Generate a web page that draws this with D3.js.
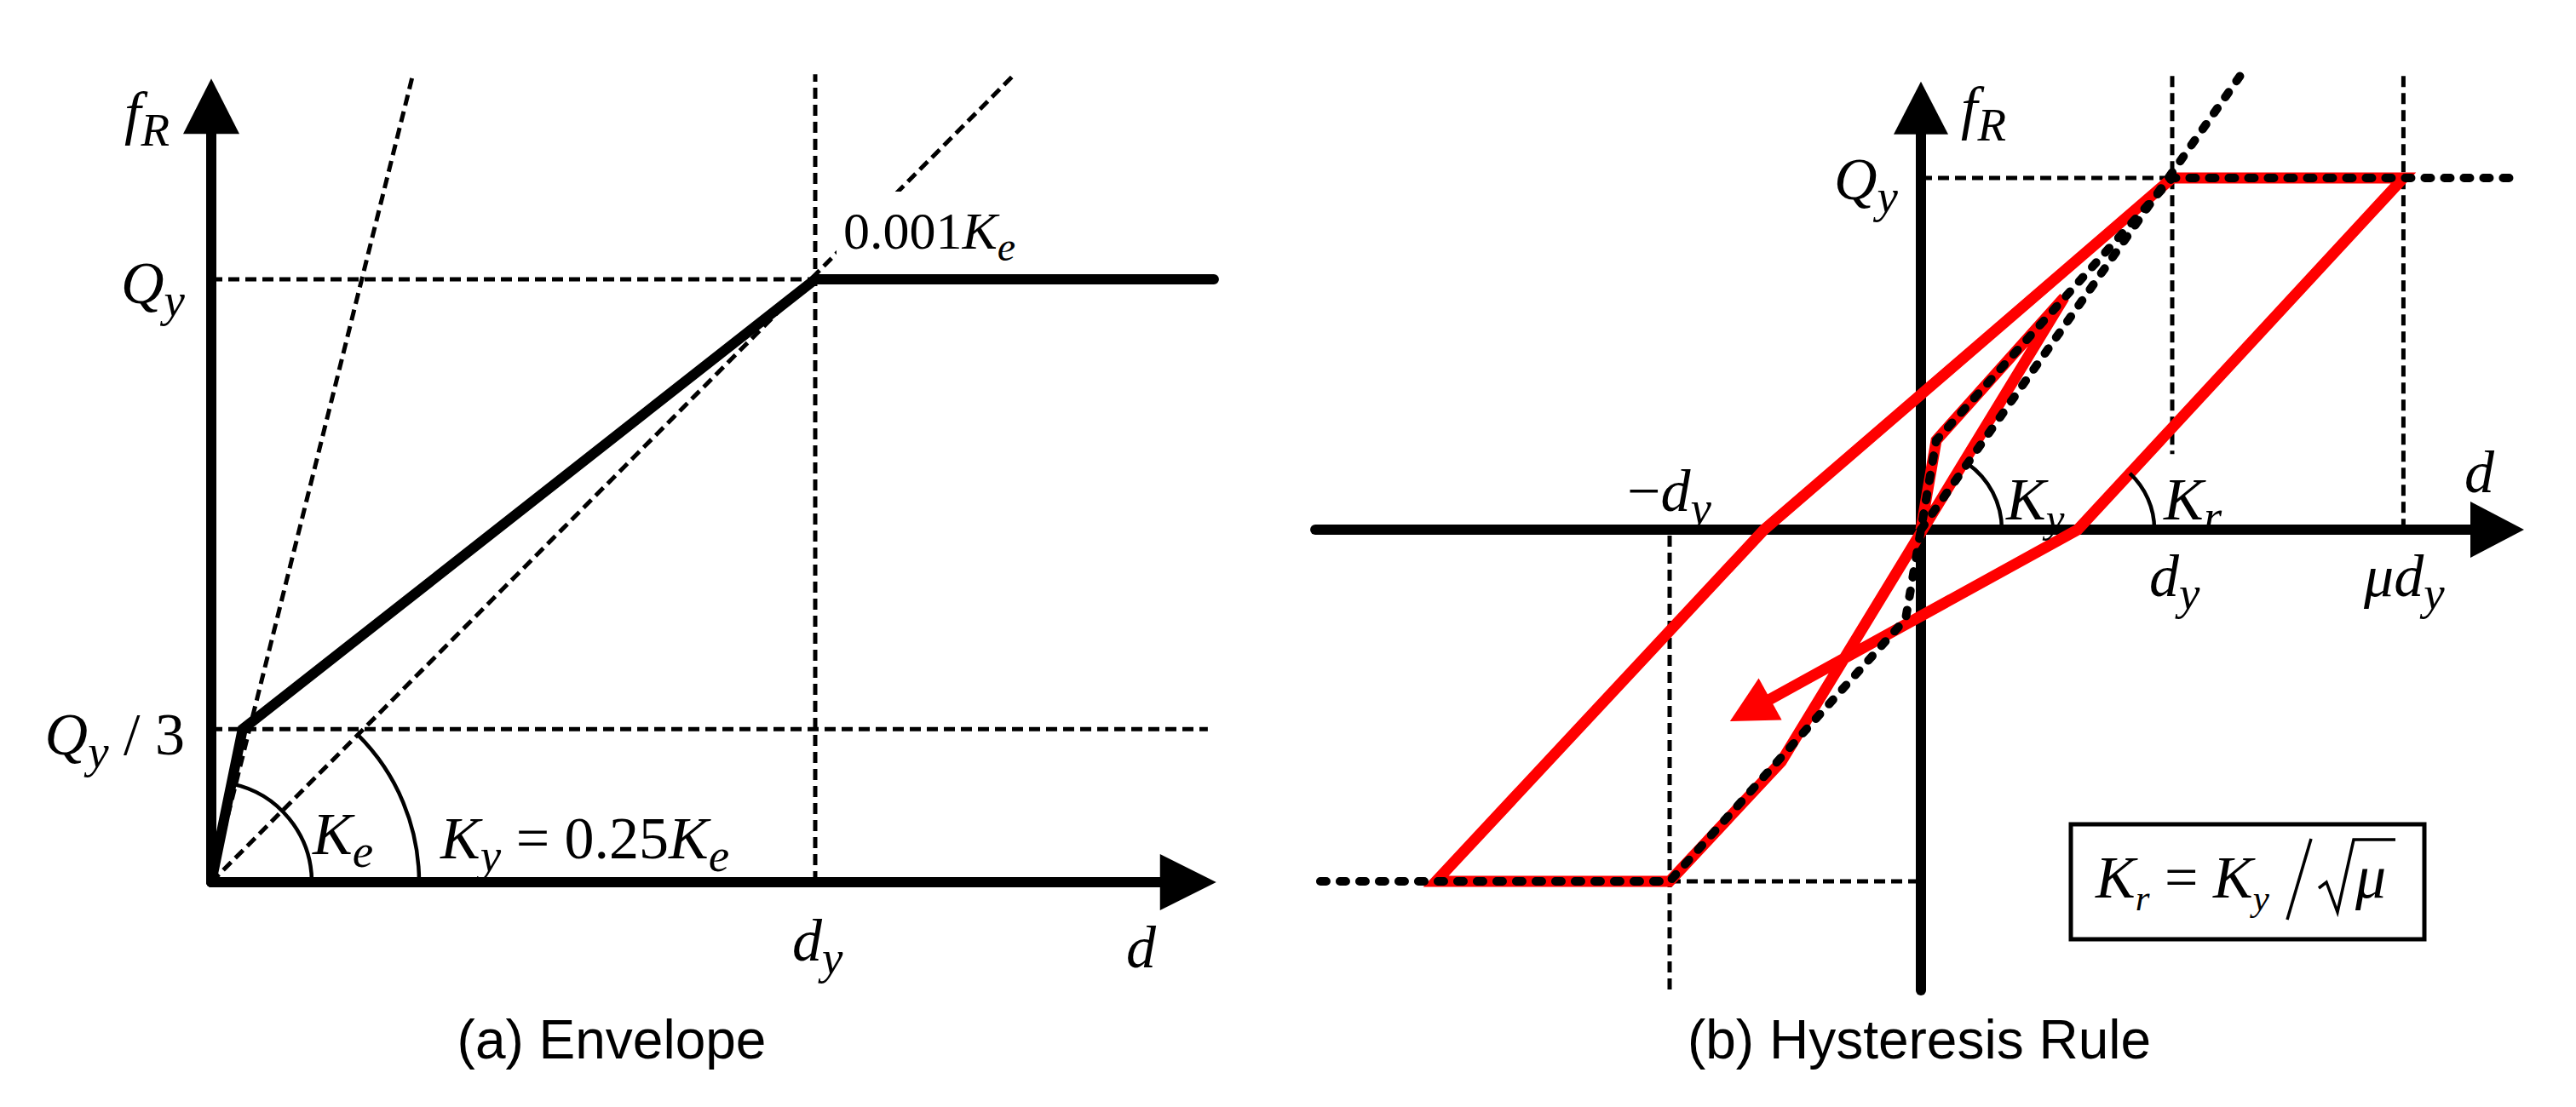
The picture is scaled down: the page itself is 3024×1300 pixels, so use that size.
<!DOCTYPE html>
<html lang="en">
<head>
<meta charset="UTF-8">
<title>Envelope and Hysteresis Rule</title>
<script src="https://d3js.org/d3.v7.min.js"></script>
<style>
  body { margin: 0; background: #fff; }
  svg { display: block; }
  .math { font-family: "Liberation Serif", "Times New Roman", serif; }
  .caption { font-family: "Liberation Sans", Arial, sans-serif; font-size: 64px; }
</style>
</head>
<body>
<div id="chart"></div>
<script>
// units: d / dy on x, f / Qy on y

// (a) envelope
const envelope = [[0, 0], [0.052, 0.254], [1, 1], [1.66, 1]];
const keLine = [[0, 0], [0.334, 1.34]];
const kyLine = [[0, 0], [1.33, 1.34]];
const refLinesA = [
  [[0, 1], [1, 1]],
  [[0, 0.254], [1.65, 0.254]],
  [[1, 0], [1, 1.34]]
];
const axisAx = [0, 1.664];
const axisAy = [0, 1.333];

// (b) hysteresis rule
const hysteresis = [[0, 0], [0.061, 0.254], [0.57, 0.66], [-0.556, -0.66], [-1, -1], [-1.93, -1],
  [-0.624, 0], [1, 1], [1.92, 1], [0.624, 0], [-0.76, -0.545]];
const skeleton = [[-2.39, -1], [-1, -1], [-0.061, -0.254], [0, 0], [0.061, 0.254], [1, 1], [2.38, 1]];
const kyLineB = [[0, 0], [1.27, 1.29]];
const refLinesB = [
  [[0, 1], [1, 1]],
  [[-1, -1], [-0.02, -1]],
  [[1, 1.29], [1, 0.215]],
  [[1.92, 1.29], [1.92, 0]],
  [[-1, -0.017], [-1, -1.31]]
];
const axisBx = [-2.41, 2.40];
const axisBy = [-1.31, 1.274];

// labels
const fR = [["f", "i"], ["R", "si"]];
const qyLbl = [["Q", "i"], ["y", "si"]];
const qy3Lbl = [["Q", "i"], ["y", "si"], [" / 3", "r"]];
const keLbl = [["K", "i"], ["e", "si"]];
const kyEqLbl = [["K", "i"], ["y", "si"], [" = 0.25", "r"], ["K", "i"], ["e", "si"]];
const ke001Lbl = [["0.001", "r"], ["K", "i"], ["e", "si"]];
const dyLbl = [["d", "i"], ["y", "si"]];
const dLbl = [["d", "i"]];
const mdyLbl = [["\u2212", "r"], ["d", "i"], ["y", "si"]];
const kyLbl = [["K", "i"], ["y", "si"]];
const krLbl = [["K", "i"], ["r", "si"]];
const mudyLbl = [["\u03bc", "i"], ["d", "i"], ["y", "si"]];
const formulaLbl = [["K", "i"], ["r", "si"], [" = ", "r"], ["K", "i"], ["y", "si"]];
const captions = ["(a) Envelope", "(b) Hysteresis Rule"];

const svg = d3.select("#chart").append("svg")
  .attr("width", 3024).attr("height", 1300);

const xA = d3.scaleLinear().domain([0, 1]).range([248, 957]);
const yA = d3.scaleLinear().domain([0, 1]).range([1036, 328]);
const xB = d3.scaleLinear().domain([0, 1]).range([2255, 2550]);
const yB = d3.scaleLinear().domain([0, 1]).range([622, 209]);

function mathText(g, x, y, parts, anchor, size, subRatio) {
  size = size || 70;
  subRatio = subRatio || 0.78;
  const t = g.append("text").attr("class", "math")
    .attr("x", x).attr("y", y)
    .attr("text-anchor", anchor || "start")
    .style("font-size", size + "px");
  let shifted = false;
  parts.forEach(([s, kind]) => {
    const sub = kind[0] === "s";
    const ts = t.append("tspan").text(s)
      .style("font-style", kind.endsWith("i") ? "italic" : "normal");
    if (sub) ts.style("font-size", Math.round(size * subRatio) + "px");
    if (sub && !shifted) { ts.attr("dy", size * 0.22); shifted = true; }
    else if (!sub && shifted) { ts.attr("dy", -size * 0.22); shifted = false; }
  });
  return t;
}

function drawLine(g, pts, x, y) {
  return g.append("path")
    .attr("d", d3.line().x(d => x(d[0])).y(d => y(d[1]))(pts))
    .attr("fill", "none");
}

// axis with a filled triangle at its end
function axisArrow(g, p0, p1, x, y, len, half, color, width) {
  const x0 = x(p0[0]), y0 = y(p0[1]), x1 = x(p1[0]), y1 = y(p1[1]);
  const L = Math.hypot(x1 - x0, y1 - y0);
  const ux = (x1 - x0) / L, uy = (y1 - y0) / L;
  const bx = x1 - ux * len, by = y1 - uy * len;
  g.append("line")
    .attr("x1", x0).attr("y1", y0).attr("x2", bx + ux * 2).attr("y2", by + uy * 2)
    .attr("stroke", color).attr("stroke-width", width).attr("stroke-linecap", "round");
  g.append("path")
    .attr("d", `M${x1},${y1}L${bx - uy * half},${by + ux * half}L${bx + uy * half},${by - ux * half}Z`)
    .attr("fill", color);
}

function angleArc(g, c, r, p, x, y) {
  const cx = x(c[0]), cy = y(c[1]);
  const ang = Math.atan2(cy - y(p[1]), x(p[0]) - cx);
  const path = d3.path();
  path.arc(cx, cy, r, 0, -ang, true);
  g.append("path").attr("d", path.toString())
    .attr("fill", "none").attr("stroke", "#000").attr("stroke-width", 4.5);
}

// ---------------- panel (a)
const ga = svg.append("g");

refLinesA.concat([keLine, kyLine]).forEach(l => {
  drawLine(ga, l, xA, yA)
    .attr("stroke", "#000").attr("stroke-width", 5).attr("stroke-dasharray", "13,7");
});

// label that hides the dashed line behind it
const l001 = mathText(ga, 990, 292, ke001Lbl, "start", 62);
const bb = l001.node().getBBox();
ga.insert("rect", "text")
  .attr("x", bb.x - 8).attr("y", bb.y - 12)
  .attr("width", bb.width + 12).attr("height", bb.height + 4)
  .attr("fill", "#fff");

drawLine(ga, envelope, xA, yA)
  .attr("stroke", "#000").attr("stroke-width", 12)
  .attr("stroke-linejoin", "miter").attr("stroke-linecap", "round");

angleArc(ga, [0, 0], 118, envelope[1], xA, yA);
angleArc(ga, [0, 0], 244, kyLine[1], xA, yA);

axisArrow(ga, [0, 0], [axisAx[1], 0], xA, yA, 66, 33, "#000", 12);
axisArrow(ga, [0, 0], [0, axisAy[1]], xA, yA, 65, 33, "#000", 12);

mathText(ga, 146, 156, fR, "start");
mathText(ga, 217, 356, qyLbl, "end");
mathText(ga, 217, 886, qy3Lbl, "end");
mathText(ga, 367, 1003, keLbl, "start");
mathText(ga, 517, 1008, kyEqLbl, "start");
mathText(ga, 930, 1128, dyLbl, "start");
mathText(ga, 1322, 1136, dLbl, "start");

ga.append("text").attr("class", "caption")
  .attr("x", 718).attr("y", 1243).attr("text-anchor", "middle")
  .text(captions[0]);

// ---------------- panel (b)
const gb = svg.append("g");

refLinesB.forEach(l => {
  drawLine(gb, l, xB, yB)
    .attr("stroke", "#000").attr("stroke-width", 5).attr("stroke-dasharray", "13,7");
});

axisArrow(gb, [axisBx[0], 0], [axisBx[1], 0], xB, yB, 63, 33, "#000", 12);
axisArrow(gb, [0, axisBy[0]], [0, axisBy[1]], xB, yB, 62, 32, "#000", 12);

// red path, last segment ends in an arrow
const last = hysteresis[hysteresis.length - 1];
const prev = hysteresis[hysteresis.length - 2];
{
  const x1 = xB(last[0]), y1 = yB(last[1]), x0 = xB(prev[0]), y0 = yB(prev[1]);
  const L = Math.hypot(x1 - x0, y1 - y0);
  const ux = (x1 - x0) / L, uy = (y1 - y0) / L;
  const len = 54, half = 28;
  const bx = x1 - ux * len, by = y1 - uy * len;
  const pts = hysteresis.slice(0, -1).map(d => [xB(d[0]), yB(d[1])]).concat([[bx + ux * 4, by + uy * 4]]);
  gb.append("path")
    .attr("d", d3.line()(pts))
    .attr("fill", "none").attr("stroke", "#ff0000").attr("stroke-width", 13)
    .attr("stroke-linejoin", "miter").attr("stroke-miterlimit", 10);
  gb.append("path")
    .attr("d", `M${x1},${y1}L${bx - uy * half},${by + ux * half}L${bx + uy * half},${by - ux * half}Z`)
    .attr("fill", "#ff0000");
}

[skeleton, kyLineB].forEach(l => {
  drawLine(gb, l, xB, yB)
    .attr("stroke", "#000").attr("stroke-width", 10)
    .attr("stroke-dasharray", "7,16").attr("stroke-linecap", "round");
});

angleArc(gb, [0, 0], 95, kyLineB[1], xB, yB);
angleArc(gb, hysteresis[9], 90, hysteresis[8], xB, yB);

mathText(gb, 2302, 150, fR, "start");
mathText(gb, 2228, 234, qyLbl, "end");
mathText(gb, 1910, 600, mdyLbl, "start");
mathText(gb, 2355, 610, kyLbl, "start", 70, 0.7);
mathText(gb, 2540, 610, krLbl, "start");
mathText(gb, 2893, 578, dLbl, "start");
mathText(gb, 2523, 700, dyLbl, "start");
mathText(gb, 2775, 700, mudyLbl, "start");

// formula box
gb.append("rect")
  .attr("x", 2431).attr("y", 968).attr("width", 415).attr("height", 135)
  .attr("fill", "#fff").attr("stroke", "#000").attr("stroke-width", 5);
mathText(gb, 2460, 1054, formulaLbl, "start", 70, 0.62);
gb.append("path")
  .attr("d", "M2713,985L2685,1080")
  .attr("fill", "none").attr("stroke", "#000").attr("stroke-width", 3.5);
gb.append("path")
  .attr("d", "M2722,1043L2731,1036L2744,1071L2763,986L2812,986")
  .attr("fill", "none").attr("stroke", "#000").attr("stroke-width", 3.5)
  .attr("stroke-linejoin", "miter");
mathText(gb, 2765, 1054, [["\u03bc", "i"]], "start", 72);

gb.append("text").attr("class", "caption")
  .attr("x", 2253).attr("y", 1243).attr("text-anchor", "middle")
  .text(captions[1]);
</script>
</body>
</html>
